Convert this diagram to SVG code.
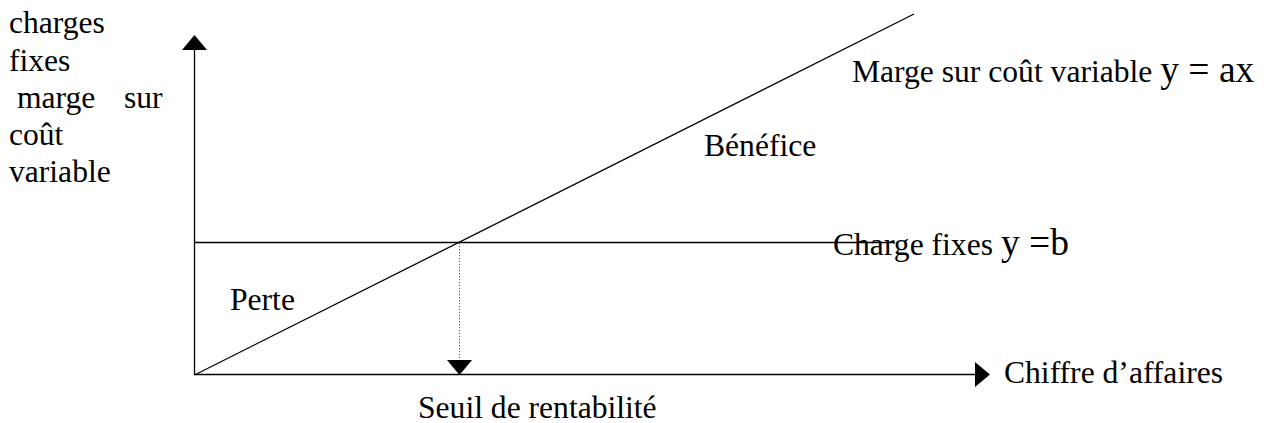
<svg xmlns="http://www.w3.org/2000/svg" width="1266" height="423" viewBox="0 0 1266 423">
  <style>
    .t { font-family: "Liberation Serif", "Times New Roman", serif; font-size: 31.6px; fill: #000; }
    .f { font-size: 37.5px; }
    .ln { stroke: #000; stroke-width: 1.3; fill: none; }
    .dot { stroke: #555; stroke-width: 1; stroke-dasharray: 1.2 1.8; fill: none; }
  </style>
  <defs>
    <marker id="ah" markerUnits="userSpaceOnUse" markerWidth="16" markerHeight="26" viewBox="0 0 16 26" refX="0" refY="13" orient="auto">
      <path d="M0,0.5 L15,13 L0,25.5 z" fill="#000"/>
    </marker>
  </defs>
  <rect width="1266" height="423" fill="#fff"/>
  <g id="connectors">
    <line class="ln" x1="194.5" y1="375" x2="194.5" y2="50" marker-end="url(#ah)"/>
    <line class="ln" x1="194" y1="374.5" x2="975" y2="374.5" marker-end="url(#ah)"/>
    <line class="ln" x1="194.5" y1="242.5" x2="895" y2="242.5"/>
    <line class="ln" x1="194.5" y1="375" x2="914" y2="14"/>
    <line class="dot" x1="459.5" y1="243" x2="459.5" y2="360" marker-end="url(#ah)"/>
  </g>
  <g id="y-axis-label">
    <text class="t" x="9" y="33">charges</text>
    <text class="t" x="9" y="70.5">fixes</text>
    <text class="t" x="17" y="108">marge</text>
    <text class="t" x="124" y="108">sur</text>
    <text class="t" x="9" y="145">coût</text>
    <text class="t" x="9" y="182">variable</text>
  </g>
  <g id="marge-label">
    <text class="t" x="852" y="82">Marge sur coût variable <tspan class="f">y = ax</tspan></text>
  </g>
  <g id="benefice">
    <text class="t" x="704" y="156">Bénéfice</text>
  </g>
  <g id="charges-label">
    <text class="t" x="833" y="255">Charge fixes <tspan class="f">y =b</tspan></text>
  </g>
  <g id="perte">
    <text class="t" x="230" y="310">Perte</text>
  </g>
  <g id="x-axis-label">
    <text class="t" x="1004" y="383">Chiffre d’affaires</text>
  </g>
  <g id="seuil">
    <text class="t" x="418" y="418">Seuil de rentabilité</text>
  </g>
</svg>
